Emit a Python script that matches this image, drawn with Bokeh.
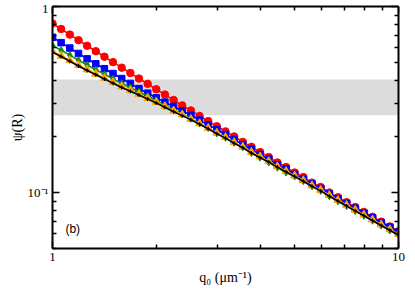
from bokeh.plotting import figure
from bokeh.models import FixedTicker, LogAxis, BoxAnnotation, Label, Title
from bokeh.embed import file_html
from bokeh.resources import INLINE

# ---------------- data ----------------
q0 = [1.000, 1.059, 1.122, 1.189, 1.259, 1.334, 1.413, 1.496, 1.585, 1.679,
      1.778, 1.884, 1.995, 2.113, 2.239, 2.371, 2.512, 2.661, 2.818, 2.985,
      3.162, 3.350, 3.548, 3.758, 3.981, 4.217, 4.467, 4.732, 5.012, 5.309,
      5.623, 5.957, 6.310, 6.683, 7.079, 7.499, 7.943, 8.414, 8.913, 9.441,
      10.000]

psi_red = [0.811, 0.757, 0.706, 0.659, 0.615, 0.575, 0.537, 0.502, 0.469, 0.439,
           0.410, 0.384, 0.359, 0.336, 0.314, 0.294, 0.276, 0.258, 0.242, 0.227,
           0.213, 0.200, 0.187, 0.176, 0.165, 0.155, 0.145, 0.137, 0.128, 0.121,
           0.113, 0.107, 0.100, 0.0943, 0.0887, 0.0835, 0.0786, 0.0740, 0.0697, 0.0657,
           0.0619]

psi_blue = [0.683, 0.639, 0.598, 0.559, 0.523, 0.492, 0.463, 0.436, 0.410, 0.386,
            0.362, 0.342, 0.323, 0.306, 0.290, 0.275, 0.260, 0.245, 0.231, 0.218,
            0.205, 0.193, 0.181, 0.171, 0.160, 0.151, 0.141, 0.134, 0.125, 0.118,
            0.111, 0.105, 0.0982, 0.0927, 0.0873, 0.0823, 0.0775, 0.0731, 0.0689, 0.0651,
            0.0613]

psi_green = [0.618, 0.582, 0.548, 0.514, 0.485, 0.457, 0.432, 0.408, 0.386, 0.366,
             0.348, 0.329, 0.313, 0.295, 0.279, 0.264, 0.249, 0.235, 0.222, 0.208,
             0.197, 0.185, 0.175, 0.163, 0.154, 0.145, 0.136, 0.128, 0.122, 0.115,
             0.108, 0.102, 0.0954, 0.0898, 0.0845, 0.0795, 0.0749, 0.0705, 0.0664, 0.0625,
             0.0590]

psi_orange = [0.574, 0.543, 0.513, 0.484, 0.458, 0.434, 0.412, 0.391, 0.371, 0.354,
              0.337, 0.321, 0.306, 0.290, 0.275, 0.262, 0.248, 0.235, 0.222, 0.209,
              0.198, 0.186, 0.176, 0.165, 0.156, 0.147, 0.138, 0.130, 0.123, 0.116,
              0.109, 0.103, 0.0966, 0.0909, 0.0855, 0.0805, 0.0758, 0.0714, 0.0672, 0.0633,
              0.0597]

psi_black = [0.568, 0.538, 0.508, 0.479, 0.453, 0.430, 0.408, 0.387, 0.367, 0.350,
             0.334, 0.318, 0.303, 0.287, 0.272, 0.259, 0.246, 0.233, 0.220, 0.207,
             0.196, 0.184, 0.174, 0.163, 0.154, 0.146, 0.137, 0.129, 0.122, 0.115,
             0.108, 0.102, 0.0956, 0.0900, 0.0846, 0.0797, 0.0750, 0.0707, 0.0665, 0.0627,
             0.0591]

x_major_ticks = [1, 10]
x_minor_ticks = [2, 3, 4, 5, 6, 7, 8, 9]
y_major_ticks = [0.1, 1]
y_minor_ticks = [0.05, 0.06, 0.07, 0.08, 0.09, 0.2, 0.3, 0.4, 0.5, 0.6, 0.7, 0.8, 0.9]
x_tick_labels = {1: "1", 10: "10"}
y_tick_labels = {0.1: "10\u207b\u00b9", 1: "1"}

band_low = 0.26
band_high = 0.405

x_label = "q\u2080 (\u03bcm\u207b\u00b9)"
y_label = "\u03c8(R)"
panel_tag = "(b)"

# ---------------- figure ----------------
p = figure(width=415, height=291, x_axis_type="log", y_axis_type="log",
           x_range=(1, 10), y_range=(0.05, 1),
           output_backend="svg", toolbar_location=None, title=None,
           min_border_left=52, min_border_right=17, min_border_top=6,
           min_border_bottom=43)
p.background_fill_color = "white"
p.border_fill_color = "white"
p.outline_line_color = None
p.xgrid.visible = False
p.ygrid.visible = False

SERIF = "Liberation Serif"


def style_axis(ax, ticker, overrides, show_labels):
    ax.ticker = ticker
    ax.major_label_overrides = overrides
    ax.axis_line_color = "black"
    ax.axis_line_width = 2
    ax.major_tick_line_color = "black"
    ax.major_tick_line_width = 1.5
    ax.minor_tick_line_color = "black"
    ax.minor_tick_line_width = 1.5
    ax.major_tick_in = 7
    ax.major_tick_out = 0
    ax.minor_tick_in = 4
    ax.minor_tick_out = 0
    if show_labels:
        ax.major_label_text_font = SERIF
        ax.major_label_text_font_size = "13px"
        ax.major_label_text_color = "black"
        ax.major_label_standoff = 4
    else:
        ax.major_label_text_font_size = "1px"
        ax.major_label_text_alpha = 0
        ax.major_label_standoff = 0


xt = FixedTicker(ticks=x_major_ticks, minor_ticks=x_minor_ticks)
yt = FixedTicker(ticks=y_major_ticks, minor_ticks=y_minor_ticks)

style_axis(p.xaxis[0], xt, x_tick_labels, True)
style_axis(p.yaxis[0], yt, y_tick_labels, True)
p.yaxis[0].axis_label = y_label
p.yaxis[0].axis_label_text_font = SERIF
p.yaxis[0].axis_label_text_font_size = "14px"
p.yaxis[0].axis_label_text_font_style = "normal"
p.yaxis[0].axis_label_text_color = "black"
p.yaxis[0].axis_label_standoff = 0

# x-axis title, stacked below the bottom axis
p.add_layout(Title(text=x_label, align="center", text_font=SERIF,
                   text_font_size="14px", text_font_style="normal",
                   text_color="black", standoff=9), "below")

blank_x = {t: "" for t in x_major_ticks}
blank_y = {t: "" for t in y_major_ticks}
top_ax = LogAxis()
style_axis(top_ax, FixedTicker(ticks=x_major_ticks, minor_ticks=x_minor_ticks), blank_x, False)
p.add_layout(top_ax, "above")
right_ax = LogAxis()
style_axis(right_ax, FixedTicker(ticks=y_major_ticks, minor_ticks=y_minor_ticks), blank_y, False)
p.add_layout(right_ax, "right")

band = BoxAnnotation(bottom=band_low, top=band_high, fill_color="#dcdcdc",
                     fill_alpha=1.0, line_color=None, level="underlay")
p.add_layout(band)

# series
p.line(q0, psi_red, line_color="#ff0000", line_width=1.6)
p.scatter(q0, psi_red, marker="circle", size=7.5, fill_color="#ff0000", line_color="#ff0000")

p.line(q0, psi_blue, line_color="#0000ff", line_width=1.6)
p.scatter(q0, psi_blue, marker="square", size=6.5, fill_color="#0000ff", line_color="#0000ff")

p.line(q0, psi_green, line_color="#1a8c1a", line_width=1.6)
p.scatter(q0, psi_green, marker="diamond", size=7, fill_color="#1a8c1a", line_color="#1a8c1a")

p.line(q0, psi_orange, line_color="#ffa500", line_width=1.6)
p.scatter(q0, psi_orange, marker="triangle", size=8, fill_color="#ffa500", line_color="#ffa500")

p.line(q0, psi_black, line_color="black", line_width=1.6)
p.scatter(q0, psi_black, marker="cross", size=4, line_color="black", line_width=1.2)

p.add_layout(Label(x=1.09, y=0.0635, text=panel_tag, text_font="Liberation Sans",
                   text_font_size="12px", text_color="black", text_baseline="middle"))

open("out.html", "w").write(file_html(p, INLINE))
